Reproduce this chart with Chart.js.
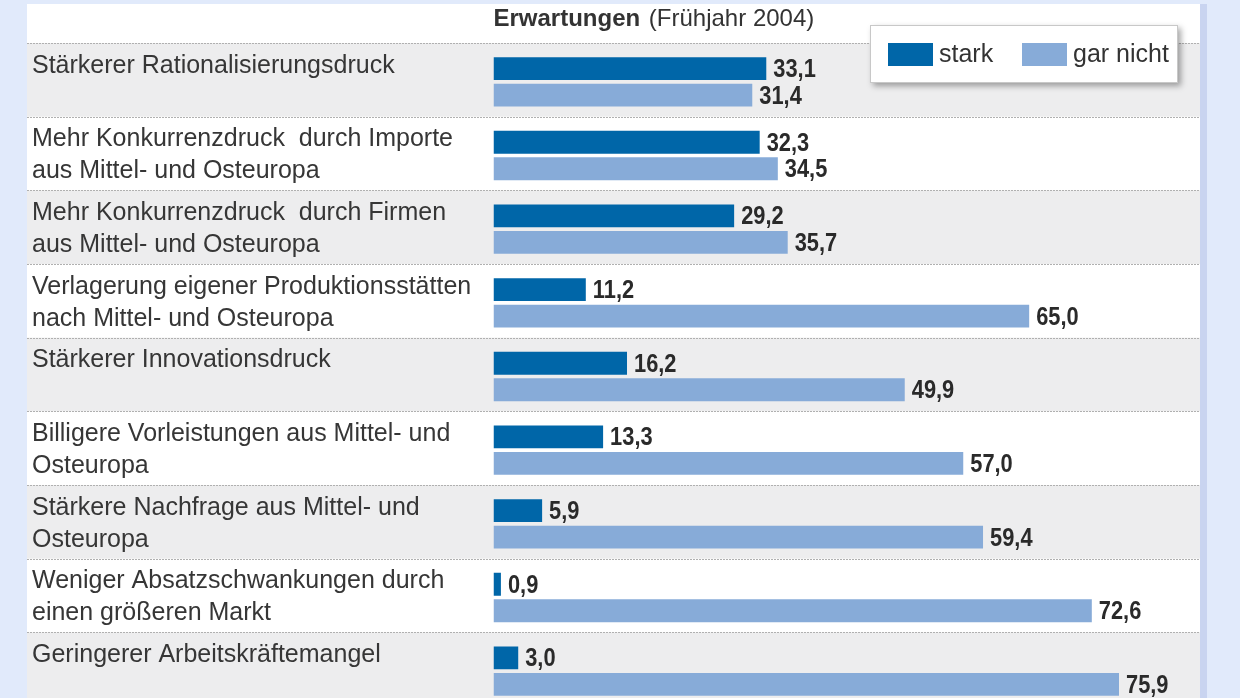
<!DOCTYPE html>
<html>
<head>
<meta charset="utf-8">
<script src="https://cdn.jsdelivr.net/npm/chart.js@4/dist/chart.umd.min.js"></script>
<style>
  html, body { margin:0; padding:0; overflow:hidden; background:#e1eafb; width:1240px; height:698px; }
  #wrap { position:absolute; left:0; top:0; width:1240px; height:740px; }
</style>
</head>
<body>
<div id="wrap"><canvas id="c"></canvas></div>
<script>
const categories = [
  ["Stärkerer Rationalisierungsdruck", ""],
  ["Mehr Konkurrenzdruck  durch Importe", "aus Mittel- und Osteuropa"],
  ["Mehr Konkurrenzdruck  durch Firmen", "aus Mittel- und Osteuropa"],
  ["Verlagerung eigener Produktionsstätten", "nach Mittel- und Osteuropa"],
  ["Stärkerer Innovationsdruck", ""],
  ["Billigere Vorleistungen aus Mittel- und", "Osteuropa"],
  ["Stärkere Nachfrage aus Mittel- und", "Osteuropa"],
  ["Weniger Absatzschwankungen durch", "einen größeren Markt"],
  ["Geringerer Arbeitskräftemangel", ""]
];
const starkValues    = [33.1, 32.3, 29.2, 11.2, 16.2, 13.3, 5.9, 0.9, 3.0];
const garNichtValues = [31.4, 34.5, 35.7, 65.0, 49.9, 57.0, 59.4, 72.6, 75.9];
const seriesNames = ["stark", "gar nicht"];
const titleBold = "Erwartungen";
const titleRest = " (Frühjahr 2004)";

const FONT = "'Liberation Sans', Arial, sans-serif";
const DARK = "#0066a8";
const LIGHT = "#87abd8";
const BAND_SHIFT = -2;

const bgPlugin = {
  id: "bgRows",
  beforeDraw(chart) {
    const ctx = chart.ctx, y = chart.scales.y;
    const n = chart.data.labels.length;
    const step = (y.bottom - y.top) / n;
    ctx.save();
    ctx.fillStyle = "#e1eafb";
    ctx.fillRect(0, 0, chart.width, chart.height);
    ctx.fillStyle = "#ffffff";
    ctx.fillRect(27, 4, 1173, chart.height);
    ctx.fillStyle = "#c9d4f0";
    ctx.fillRect(1200, 4, 7, chart.height);
    for (let i = 0; i < n; i++) {
      const top = y.getPixelForTick(i) - step / 2 + BAND_SHIFT;
      if (i % 2 === 0) {
        ctx.fillStyle = "#ededee";
        ctx.fillRect(27, top, 1173, step);
      }
    }
    ctx.strokeStyle = "#b0b0b0";
    ctx.lineWidth = 1;
    ctx.setLineDash([2, 1]);
    for (let i = 0; i < n; i++) {
      const top = Math.round(y.getPixelForTick(i) - step / 2 + BAND_SHIFT) + 0.5;
      ctx.beginPath();
      ctx.moveTo(27, top);
      ctx.lineTo(1200, top);
      ctx.stroke();
    }
    ctx.restore();
  },
  afterDatasetsDraw(chart) {
    const ctx = chart.ctx;
    ctx.save();
    ctx.fillStyle = "#2a2a2a";
    ctx.font = "bold 26px " + FONT;
    ctx.textAlign = "left";
    ctx.textBaseline = "alphabetic";
    chart.data.datasets.forEach((ds, di) => {
      const meta = chart.getDatasetMeta(di);
      meta.data.forEach((el, i) => {
        const txt = ds.data[i].toFixed(1).replace(".", ",");
        ctx.save();
        ctx.translate(el.x + 7, el.y + 8.5);
        ctx.scale(0.84, 1);
        ctx.fillText(txt, 0, 0);
        ctx.restore();
      });
    });
    ctx.restore();
  },
  afterDraw(chart) {
    const ctx = chart.ctx;
    ctx.save();
    ctx.fillStyle = "#333333";
    ctx.textBaseline = "alphabetic";
    ctx.textAlign = "left";
    ctx.font = "bold 24px " + FONT;
    const x0 = chart.chartArea.left;
    ctx.fillText(titleBold, x0, 26);
    const w = ctx.measureText(titleBold).width;
    ctx.font = "24px " + FONT;
    ctx.fillText(titleRest, x0 + w + 2, 26);
    ctx.save();
    ctx.shadowColor = "rgba(0,0,0,0.35)";
    ctx.shadowBlur = 6;
    ctx.shadowOffsetX = 3;
    ctx.shadowOffsetY = 3;
    ctx.fillStyle = "#ffffff";
    ctx.fillRect(870, 25, 308, 58);
    ctx.restore();
    ctx.strokeStyle = "#c8c8c8";
    ctx.lineWidth = 1;
    ctx.strokeRect(870.5, 25.5, 307, 57);
    const items = [
      { x: 888, tx: 939 },
      { x: 1022, tx: 1073 }
    ];
    chart.data.datasets.forEach((ds, di) => {
      const it = items[di];
      ctx.fillStyle = ds.backgroundColor;
      ctx.fillRect(it.x, 43, 45, 23);
      ctx.fillStyle = "#333333";
      ctx.font = "25px " + FONT;
      ctx.textBaseline = "middle";
      ctx.fillText(ds.label, it.tx, 55);
    });
    ctx.restore();
  }
};

new Chart(document.getElementById("c"), {
  type: "bar",
  data: {
    labels: categories,
    datasets: [
      { label: seriesNames[0], data: starkValues, backgroundColor: DARK,
        categoryPercentage: 0.72, barPercentage: 0.86 },
      { label: seriesNames[1], data: garNichtValues, backgroundColor: LIGHT,
        categoryPercentage: 0.72, barPercentage: 0.86 }
    ]
  },
  options: {
    indexAxis: "y",
    responsive: true,
    maintainAspectRatio: false,
    animation: false,
    devicePixelRatio: 1,
    layout: { padding: { left: 32, top: 45, right: 46, bottom: 22.25 } },
    plugins: { legend: { display: false }, tooltip: { enabled: false }, title: { display: false } },
    scales: {
      x: { display: false, min: 0, max: 85 },
      y: {
        grid: { display: false },
        border: { display: false },
        afterFit(scale) { scale.width = 461.5; },
        ticks: {
          autoSkip: false,
          crossAlign: "far",
          color: "#363636",
          padding: 0,
          font: { family: FONT, size: 25, lineHeight: 1.28 }
        }
      }
    }
  },
  plugins: [bgPlugin]
});
</script>
</body>
</html>
